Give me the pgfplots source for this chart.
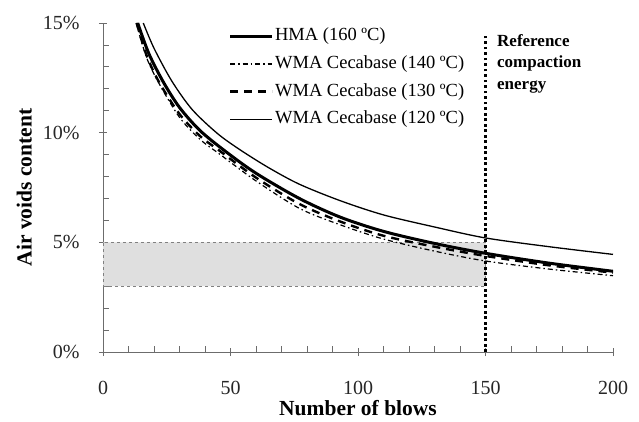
\documentclass[border=0pt]{standalone}
\usepackage{pgfplots}
\pgfplotsset{compat=1.18}
\usepackage{fontspec}
\setmainfont{Liberation Serif}
\begin{document}
\begin{tikzpicture}
\useasboundingbox (0,0) rectangle (639pt,421pt);
\begin{axis}[
  at={(103pt,69pt)}, anchor=south west,
  scale only axis, width=510pt, height=329pt,
  xmin=0, xmax=200, ymin=0, ymax=15,
  axis lines=left,
  axis line style={-, draw=gray!85!black, line width=0.8pt},
  xtick={0,50,100,150,200}, minor x tick num=4,
  ytick={0,5,10,15}, yticklabels={0\%,5\%,10\%,15\%}, minor y tick num=4,
  tick align=center,
  major tick length=8pt, minor tick length=6pt,
  every tick/.style={draw=gray!85!black, line width=0.8pt},
  every minor x tick/.append style={yshift=3pt},
  every minor y tick/.append style={xshift=3pt},
  /pgf/number format/assume math mode=true,
  ticklabel style={font=\fontsize{20}{22}\selectfont, text=black!85},
  xticklabel style={yshift=-22pt},
  yticklabel style={xshift=-16pt},
  xlabel={\textbf{Number of blows}},
  ylabel={\textbf{Air voids content}},
  label style={font=\fontsize{21.5}{24}\selectfont},
  xlabel style={yshift=2pt},
  ylabel style={yshift=4pt},
  clip=false,
  legend cell align=left,
  legend style={at={(axis cs:48,14.95)}, anchor=north west, draw=none, fill=none,
    font=\fontsize{18.5}{20}\selectfont, row sep=7.7pt,
    nodes={inner sep=1.5pt, text height=13pt, text depth=4pt}},
  legend image code/.code={\draw[#1] (0pt,0pt) -- (42pt,0pt);},
]
% shaded target band
\addplot[draw=gray, dashed, line width=0.8pt, fill=gray!25, forget plot]
  coordinates {(0,3) (150,3) (150,5) (0,5) (0,3)};
% reference compaction energy line
\addplot[black, line width=2.6pt, dash pattern=on 2.6pt off 2.9pt, forget plot]
  coordinates {(150,0) (150,14.5)};
% HMA 160
\addplot[black, line width=3pt, smooth] coordinates {
(13.6,15) (18,13.6) (23.7,12.3) (30,11.15) (38,10.1) (48,9.15) (60,8.15) (77,7.0)
(93,6.15) (110,5.5) (130,4.95) (150,4.5) (175,4.05) (200,3.68)};
\addlegendentry{HMA (160 ºC)}
% WMA 140
\addplot[black, line width=1.2pt, dash pattern=on 5pt off 3pt on 1.5pt off 3pt, smooth] coordinates {
(13,15) (17,13.45) (21.7,12.3) (30,10.7) (38,9.7) (46,9.0) (60,7.8) (77,6.55)
(93,5.8) (110,5.15) (130,4.6) (150,4.15) (175,3.78) (200,3.48)};
\addlegendentry{WMA Cecabase (140 ºC)}
% WMA 130
\addplot[black, line width=2.4pt, dash pattern=on 8pt off 6pt, smooth] coordinates {
(13.2,15) (17,13.55) (22,12.3) (30,10.85) (38,9.85) (46,9.15) (60,7.95) (77,6.75)
(93,5.95) (110,5.3) (130,4.8) (150,4.38) (175,3.95) (200,3.62)};
\addlegendentry{WMA Cecabase (130 ºC)}
% WMA 120
\addplot[black, line width=1.3pt, smooth] coordinates {
(15.8,15.0) (20,13.85) (27,12.35) (35,11.05) (45,9.95) (54,9.2) (65,8.4) (77,7.65)
(93,6.9) (110,6.25) (130,5.7) (150,5.2) (175,4.8) (200,4.45)};
\addlegendentry{WMA Cecabase (120 ºC)}
\node[anchor=north west, align=left, font=\fontsize{17}{21.5}\selectfont\bfseries, inner sep=0pt]
  at (axis cs:154.5,14.5) {Reference\\compaction\\energy};
\end{axis}
\end{tikzpicture}
\end{document}
